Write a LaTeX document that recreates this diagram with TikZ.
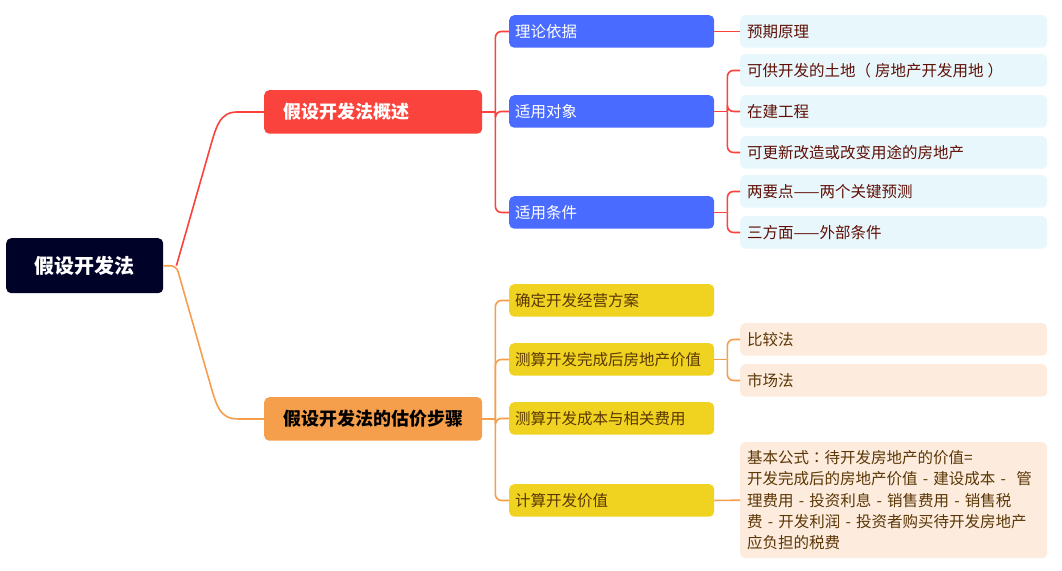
\documentclass[tikz,border=0pt]{standalone}
\usepackage{fontspec}
\setmainfont{Noto Sans CJK SC}
\newfontfamily\punctfont{Noto Sans CJK TC}
\definecolor{navy}{RGB}{0,2,40}
\definecolor{redc}{RGB}{249,67,60}
\definecolor{orangec}{RGB}{245,158,76}
\definecolor{bluec}{RGB}{74,107,255}
\definecolor{cyanc}{RGB}{232,247,252}
\definecolor{yellowc}{RGB}{240,211,32}
\definecolor{peachc}{RGB}{253,235,221}
\definecolor{leaftext}{RGB}{95,15,5}
\definecolor{browntext}{RGB}{90,55,5}
\tikzset{
  box/.style={anchor=north west, rounded corners=5pt, align=left, inner ysep=0pt},
  rootbox/.style={box, fill=navy, text=white, align=center, text width=149pt, inner xsep=4pt,
    minimum height=55pt, font=\fontsize{20}{24}\selectfont\bfseries},
  topicbox/.style={box, text width=180pt, inner xsep=19pt, minimum height=43.5pt,
    font=\fontsize{18}{22}\selectfont\bfseries},
  subbox/.style={box, text width=193pt, inner xsep=6pt, minimum height=32.5pt,
    font=\fontsize{15.5}{20}\selectfont},
  leafbox/.style={box, text width=293pt, inner xsep=7pt, minimum height=32.5pt,
    font=\fontsize{15.5}{21.3}\selectfont},
  redlink/.style={draw=redc, line width=1.6pt, rounded corners=6pt},
  orangelink/.style={draw=orangec, line width=1.6pt, rounded corners=6pt},
}
\begin{document}
\begin{tikzpicture}[x=1pt,y=-1pt]
    \useasboundingbox[fill=white] (0,0) rectangle (1062,570);

    % Root and main topics
    \node[rootbox] (root) at (6,238) {假设开发法};
    \node[topicbox, fill=redc, text=white] (overview) at (264,90) {假设开发法概述};
    \node[topicbox, fill=orangec, text=black] (steps) at (264,397) {假设开发法的估价步骤};

    % Overview branch
    \node[subbox, fill=bluec, text=white] (basis) at (509,15) {理论依据};
    \node[subbox, fill=bluec, text=white] (object) at (509,95) {适用对象};
    \node[subbox, fill=bluec, text=white] (cond) at (509,196) {适用条件};

    \node[leafbox, fill=cyanc, text=leaftext] (expect) at (740,15) {预期原理};
    \node[leafbox, fill=cyanc, text=leaftext] (land) at (740,54) {可供开发的土地{\punctfont （}\hspace{4pt}房地产开发用地\hspace{4pt}{\punctfont ）}};
    \node[leafbox, fill=cyanc, text=leaftext] (building) at (740,95) {在建工程};
    \node[leafbox, fill=cyanc, text=leaftext] (renew) at (740,136) {可更新改造或改变用途的房地产};
    \node[leafbox, fill=cyanc, text=leaftext] (twopts) at (740,175) {两要点——两个关键预测};
    \node[leafbox, fill=cyanc, text=leaftext] (threeasp) at (740,216) {三方面——外部条件};

    % Steps branch
    \node[subbox, fill=yellowc, text=browntext] (plan) at (509,284) {确定开发经营方案};
    \node[subbox, fill=yellowc, text=browntext] (value) at (509,343) {测算开发完成后房地产价值};
    \node[subbox, fill=yellowc, text=browntext] (cost) at (509,402) {测算开发成本与相关费用};
    \node[subbox, fill=yellowc, text=browntext] (devval) at (509,484) {计算开发价值};

    \node[leafbox, fill=peachc, text=browntext] (compare) at (740,323) {比较法};
    \node[leafbox, fill=peachc, text=browntext] (market) at (740,364) {市场法};
    \node[leafbox, fill=peachc, text=browntext, minimum height=116pt] (formula) at (740,442)
      {基本公式{\punctfont ：}待开发房地产的价值=\\
       开发完成后的房地产价值 - 建设成本 -\ \ 管\\
       理费用 - 投资利息 - 销售费用 - 销售税\\
       费 - 开发利润 - 投资者购买待开发房地产\\
       应负担的税费};

    % Links from root
    \coordinate (rootout) at ([xshift=13pt]root.east);
    \draw[redlink] (rootout) -- ++(30,-105) .. controls +(10,-35) and +(-25,0) .. ([xshift=-20pt]overview.west) -- (overview.west);
    \draw[orangelink] (root.east) -- (rootout) -- ++(30,105) .. controls +(10,35) and +(-25,0) .. ([xshift=-20pt]steps.west) -- (steps.west);

    % Brackets
    \draw[redlink] (overview.east) -- ++(13,0) coordinate (ovj);
    \foreach \c in {basis,object,cond} \draw[redlink] (ovj) |- (\c.west);
    \draw[redlink] (basis.east) -- (expect.west);
    \draw[redlink] (object.east) -- ++(13,0) coordinate (obj);
    \foreach \c in {land,building,renew} \draw[redlink] (obj) |- (\c.west);
    \draw[redlink] (cond.east) -- ++(13,0) coordinate (cdj);
    \foreach \c in {twopts,threeasp} \draw[redlink] (cdj) |- (\c.west);

    \draw[orangelink] (steps.east) -- ++(13,0) coordinate (stj);
    \foreach \c in {plan,value,cost,devval} \draw[orangelink] (stj) |- (\c.west);
    \draw[orangelink] (value.east) -- ++(13,0) coordinate (vaj);
    \foreach \c in {compare,market} \draw[orangelink] (vaj) |- (\c.west);
    \draw[orangelink] (devval.east) -- (formula.west);
\end{tikzpicture}
\end{document}
